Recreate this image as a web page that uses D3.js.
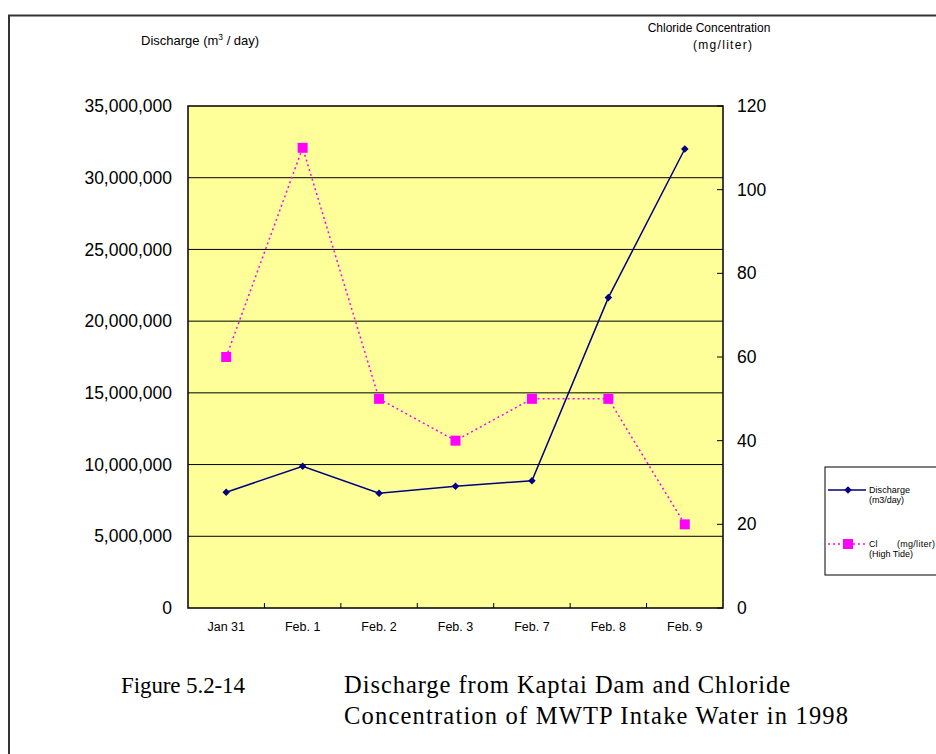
<!DOCTYPE html>
<html>
<head>
<meta charset="utf-8">
<script src="https://cdn.jsdelivr.net/npm/d3@7"></script>
<style>
  html, body { margin: 0; padding: 0; background: #fff; }
  svg { display: block; }
</style>
</head>
<body>
<svg id="chart" width="936" height="754"></svg>
<script>
// Sampling dates
const categories = ["Jan 31", "Feb. 1", "Feb. 2", "Feb. 3", "Feb. 7", "Feb. 8", "Feb. 9"];
// Discharge from the dam, m3/day
const discharge = [8070000, 9880000, 8000000, 8490000, 8870000, 21640000, 32000000];
// Chloride at high tide, mg/liter
const chloride = [60, 110, 50, 40, 50, 50, 20];
// Axis ticks
const leftTicks = [0, 5000000, 10000000, 15000000, 20000000, 25000000, 30000000, 35000000];
const rightTicks = [0, 20, 40, 60, 80, 100, 120];

const svg = d3.select("#chart");
const plot = { left: 188, right: 723, top: 106, bottom: 608 };
const sans = "Liberation Sans, Arial, sans-serif";

const x = d3.scaleBand().domain(categories).range([plot.left, plot.right]).padding(0);
const yL = d3.scaleLinear().domain([0, 35000000]).range([plot.bottom, plot.top]);
const yR = d3.scaleLinear().domain([0, 120]).range([plot.bottom, plot.top]);
const cx = d => x(d) + x.bandwidth() / 2;

// Outer frame (open on right and bottom)
svg.append("path")
  .attr("d", "M9,760 L9,15.5 L940,15.5")
  .attr("fill", "none").attr("stroke", "#333").attr("stroke-width", 2);

// Plot background
svg.append("rect")
  .attr("x", plot.left).attr("y", plot.top)
  .attr("width", plot.right - plot.left).attr("height", plot.bottom - plot.top)
  .attr("fill", "#FFFF99");

// Horizontal gridlines
svg.append("g").selectAll("line")
  .data(leftTicks.slice(1, -1)).join("line")
  .attr("x1", plot.left).attr("x2", plot.right)
  .attr("y1", d => yL(d)).attr("y2", d => yL(d))
  .attr("stroke", "#000").attr("stroke-width", 1);

// Left axis labels
const fmt = d3.format(",");
svg.append("g").selectAll("text")
  .data(leftTicks).join("text")
  .attr("x", 172).attr("y", d => yL(d))
  .attr("dy", "0.35em").attr("text-anchor", "end")
  .attr("font-family", sans).attr("font-size", 17.5)
  .attr("fill", "#000").text(d => fmt(d));

// Right axis ticks and labels
svg.append("g").selectAll("line")
  .data(rightTicks).join("line")
  .attr("x1", plot.right - 6).attr("x2", plot.right)
  .attr("y1", d => yR(d)).attr("y2", d => yR(d))
  .attr("stroke", "#000").attr("stroke-width", 1);
svg.append("g").selectAll("text")
  .data(rightTicks).join("text")
  .attr("x", 737).attr("y", d => yR(d))
  .attr("dy", "0.35em").attr("text-anchor", "start")
  .attr("font-family", sans).attr("font-size", 17.5)
  .attr("fill", "#000").text(d => d);

// Category tick marks on the bottom axis
svg.append("g").selectAll("line")
  .data(categories.slice(1)).join("line")
  .attr("x1", d => x(d)).attr("x2", d => x(d))
  .attr("y1", plot.bottom - 5).attr("y2", plot.bottom)
  .attr("stroke", "#000").attr("stroke-width", 1);

// Category labels
svg.append("g").selectAll("text")
  .data(categories).join("text")
  .attr("x", d => cx(d)).attr("y", 627)
  .attr("dy", "0.35em").attr("text-anchor", "middle")
  .attr("font-family", sans).attr("font-size", 12.5)
  .attr("fill", "#000").text(d => d);

// Plot border
svg.append("rect")
  .attr("x", plot.left).attr("y", plot.top)
  .attr("width", plot.right - plot.left).attr("height", plot.bottom - plot.top)
  .attr("fill", "none").attr("stroke", "#000").attr("stroke-width", 1.5);

// Chloride series: dotted magenta line with square markers
const clLine = d3.line().x((d, i) => cx(categories[i])).y(d => yR(d));
svg.append("path").datum(chloride)
  .attr("d", clLine).attr("fill", "none")
  .attr("stroke", "#FF00FF").attr("stroke-width", 1.5).attr("stroke-dasharray", "2,3");
svg.append("g").selectAll("rect")
  .data(chloride).join("rect")
  .attr("x", (d, i) => cx(categories[i]) - 5).attr("y", d => yR(d) - 5)
  .attr("width", 10).attr("height", 10).attr("fill", "#FF00FF");

// Discharge series: navy line with diamond markers
const qLine = d3.line().x((d, i) => cx(categories[i])).y(d => yL(d));
svg.append("path").datum(discharge)
  .attr("d", qLine).attr("fill", "none")
  .attr("stroke", "#000080").attr("stroke-width", 1.5);
const diamond = d3.symbol().type(d3.symbolDiamond2).size(36);
svg.append("g").selectAll("path")
  .data(discharge).join("path")
  .attr("transform", (d, i) => `translate(${cx(categories[i])},${yL(d)})`)
  .attr("d", diamond).attr("fill", "#000080");

// Axis titles
const lt = svg.append("text")
  .attr("x", 141).attr("y", 45)
  .attr("font-family", sans).attr("font-size", 13)
  .attr("fill", "#000");
lt.append("tspan").text("Discharge (m");
lt.append("tspan").attr("font-size", 8.5).attr("dy", -5).text("3");
lt.append("tspan").attr("dy", 5).text(" / day)");

svg.append("text")
  .attr("x", 709).attr("y", 32).attr("text-anchor", "middle")
  .attr("font-family", sans).attr("font-size", 12)
  .attr("fill", "#000").text("Chloride Concentration");
svg.append("text")
  .attr("x", 693).attr("y", 49)
  .attr("font-family", sans).attr("font-size", 12)
  .attr("textLength", 59).attr("lengthAdjust", "spacing")
  .attr("fill", "#000").text("(mg/liter)");

// Legend
const lg = svg.append("g");
lg.append("rect")
  .attr("x", 825).attr("y", 467).attr("width", 120).attr("height", 108)
  .attr("fill", "#fff").attr("stroke", "#000").attr("stroke-width", 1);
lg.append("line")
  .attr("x1", 828).attr("x2", 866).attr("y1", 490).attr("y2", 490)
  .attr("stroke", "#000080").attr("stroke-width", 1.5);
lg.append("path")
  .attr("transform", "translate(848,490)").attr("d", diamond).attr("fill", "#000080");
lg.append("line")
  .attr("x1", 828).attr("x2", 866).attr("y1", 544).attr("y2", 544)
  .attr("stroke", "#FF00FF").attr("stroke-width", 1.5).attr("stroke-dasharray", "2,3");
lg.append("rect")
  .attr("x", 843).attr("y", 539).attr("width", 10).attr("height", 10).attr("fill", "#FF00FF");
const legText = [
  { t: "Discharge", x: 869, y: 490, w: 41 },
  { t: "(m3/day)", x: 869, y: 500, w: 35 },
  { t: "Cl", x: 869, y: 544, w: null },
  { t: "(mg/liter)", x: 897, y: 544, w: 38 },
  { t: "(High Tide)", x: 869, y: 554, w: 44 }
];
lg.selectAll("text.leg").data(legText).join("text")
  .attr("x", d => d.x).attr("y", d => d.y).attr("dy", "0.35em")
  .attr("font-family", sans).attr("font-size", 9)
  .each(function (d) {
    if (d.w) d3.select(this).attr("textLength", d.w).attr("lengthAdjust", "spacing");
  })
  .attr("fill", "#000").text(d => d.t);

// Figure caption
const cap = svg.append("g")
  .attr("font-family", "Liberation Serif, Times New Roman, serif")
  .attr("fill", "#000");
cap.append("text").attr("x", 121).attr("y", 693).attr("font-size", 23)
  .attr("textLength", 124).attr("lengthAdjust", "spacing").text("Figure 5.2-14");
cap.append("text").attr("x", 344).attr("y", 693).attr("font-size", 24.5)
  .attr("textLength", 446).attr("lengthAdjust", "spacing").text("Discharge from Kaptai Dam and Chloride");
cap.append("text").attr("x", 344).attr("y", 724).attr("font-size", 24.5)
  .attr("textLength", 504).attr("lengthAdjust", "spacing").text("Concentration of MWTP Intake Water in 1998");
</script>
</body>
</html>
